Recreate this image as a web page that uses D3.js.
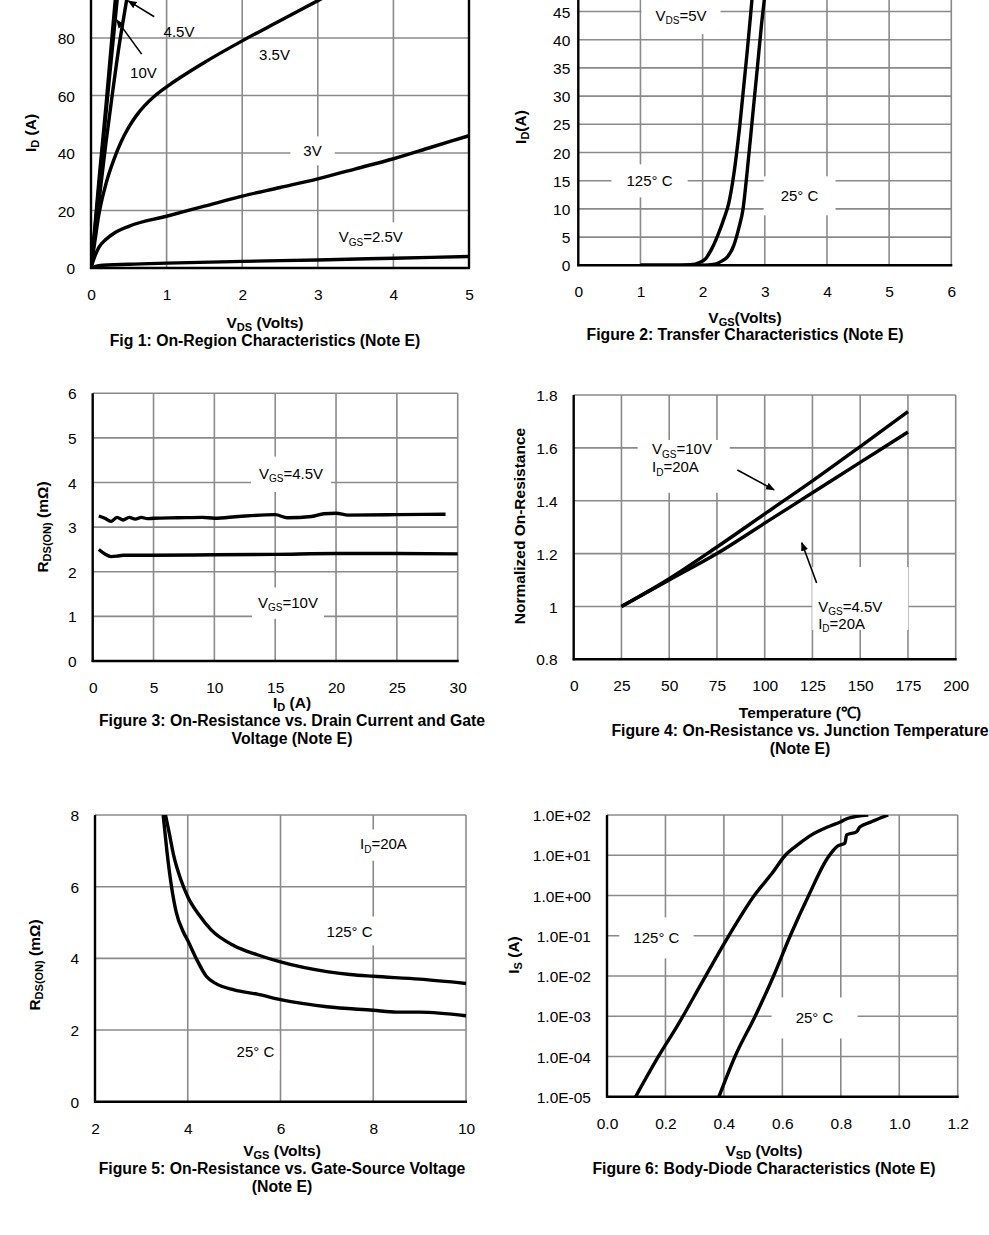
<!DOCTYPE html>
<html>
<head>
<meta charset="utf-8">
<script src="https://cdn.jsdelivr.net/npm/d3@7"></script>
<style>
body { margin: 0; background: #fff; }
svg { font-family: "Liberation Sans", Arial, sans-serif; }
</style>
</head>
<body>
<svg id="page" width="989" height="1235"></svg>
<script>
// ---- Fig 1: On-region characteristics (VDS, ID) ----
var f1_vgs10  = [[0,0],[0.05,14],[0.1,29],[0.2,57],[0.32,93],[0.36,104]];
var f1_vgs6   = [[0,0],[0.05,13],[0.1,27],[0.21,57],[0.345,93],[0.39,104]];
var f1_vgs45  = [[0,0],[0.05,11],[0.1,22],[0.2,44],[0.27,58],[0.37,77],[0.47,93],[0.52,101]];
var f1_vgs35  = [[0,0],[0.05,9],[0.1,18],[0.2,29.5],[0.3,37.5],[0.4,44],[0.5,49],[0.6,53],[0.7,56.2],[0.85,60],[1,63],[1.5,71.5],[2,79],[2.5,86],[3,93],[3.5,100],[3.7,103]];
var f1_vgs3   = [[0,0],[0.05,4],[0.1,7],[0.2,10],[0.3,12],[0.5,14.5],[1,18],[1.5,21.5],[2,25],[2.5,28],[3,31],[3.5,34.5],[4,38],[4.5,42],[5,46]];
var f1_vgs25  = [[0,0],[0.1,0.8],[0.5,1.3],[1,1.7],[2,2.3],[3,2.8],[4,3.4],[5,4]];
var f1_xticks = [0,1,2,3,4,5];
var f1_yticks = [0,20,40,60,80];
var f1_ygrid  = [0,20,40,60,80,100];

// ---- Fig 2: Transfer characteristics (VGS, ID) ----
var f2_t125 = [[1,0],[1.5,0],[1.8,0.1],[1.95,0.5],[2.05,1.2],[2.15,3],[2.25,5.5],[2.35,8.5],[2.42,11],[2.5,16],[2.6,25],[2.7,36],[2.8,48],[2.85,55]];
var f2_t25  = [[1,0],[1.5,0],[2.0,0],[2.2,0.2],[2.3,0.7],[2.4,1.5],[2.5,3.5],[2.58,6.5],[2.65,10],[2.72,17],[2.8,26],[2.88,35],[2.95,43],[3.0,48],[3.05,55]];
var f2_xticks = [0,1,2,3,4,5,6];
var f2_yticks = [0,5,10,15,20,25,30,35,40,45];
var f2_ygrid  = [0,5,10,15,20,25,30,35,40,45,50];

// ---- Fig 3: RDS(ON) vs ID ----
var f3_vgs45 = [[0.5,3.25],[1,3.2],[1.5,3.13],[2,3.22],[2.5,3.16],[3,3.22],[3.5,3.18],[4,3.22],[4.5,3.19],[5,3.2],[7,3.21],[9,3.22],[10,3.2],[12,3.24],[15,3.28],[16,3.21],[18,3.24],[19,3.3],[20,3.31],[21,3.27],[25,3.28],[29,3.29]];
var f3_vgs10 = [[0.5,2.5],[1,2.4],[1.5,2.34],[2,2.35],[2.5,2.37],[5,2.37],[10,2.38],[15,2.39],[20,2.41],[25,2.41],[30,2.4]];
var f3_xticks = [0,5,10,15,20,25,30];
var f3_yticks = [0,1,2,3,4,5,6];

// ---- Fig 4: normalized RDS(ON) vs temperature ----
var f4_vgs10 = [[25,1],[50,1.105],[75,1.225],[100,1.35],[125,1.475],[150,1.605],[175,1.737]];
var f4_vgs45 = [[25,1],[50,1.1],[75,1.2],[100,1.315],[125,1.43],[150,1.545],[175,1.66]];
var f4_xticks = [0,25,50,75,100,125,150,175,200];
var f4_yticks = [0.8,1,1.2,1.4,1.6,1.8];

// ---- Fig 5: RDS(ON) vs VGS ----
var f5_t125 = [[3.52,8],[3.6,7.5],[3.7,6.85],[3.85,6.2],[4,5.72],[4.25,5.2],[4.5,4.8],[5,4.35],[5.5,4.1],[6,3.9],[7,3.63],[7.5,3.55],[8,3.5],[9,3.42],[10,3.3]];
var f5_t25  = [[3.47,8],[3.55,7],[3.65,6],[3.75,5.3],[3.9,4.75],[4,4.5],[4.2,3.95],[4.4,3.5],[4.6,3.3],[5,3.12],[5.5,3.0],[6,2.85],[7,2.65],[8,2.55],[8.5,2.5],[9,2.5],[10,2.4]];
var f5_xticks = [2,4,6,8,10];
var f5_yticks = [0,2,4,6,8];

// ---- Fig 6: body diode (VSD, IS) ----
var f6_t125 = [[0.098,1e-5],[0.176,1e-4],[0.239,5.5e-4],[0.33,8e-3],[0.415,0.095],[0.507,1.07],[0.564,3.5],[0.61,10],[0.66,20],[0.70,32],[0.757,51],[0.80,68],[0.825,83],[0.894,100]];
var f6_t25  = [[0.383,1e-5],[0.438,1e-4],[0.507,1e-3],[0.57,1e-2],[0.627,0.1],[0.69,1],[0.757,9],[0.79,17],[0.814,20],[0.82,32],[0.854,38],[0.865,50],[0.905,68],[0.962,100]];
var f6_xticks = [0,0.2,0.4,0.6,0.8,1.0,1.2];
var f6_yticks = [1e-5,1e-4,1e-3,1e-2,1e-1,1e0,1e1,1e2];

var svg = d3.select("#page");
var GRID = "#8a8a8a";
var nclip = 0;

// text with subscripts: parts beginning with "_" are subscripts
function rich(sel, parts, size) {
    var sub = false;
    parts.forEach(function(p) {
        var t;
        if (p.charAt(0) == "_") {
            t = sel.append("tspan").attr("font-size", Math.round(size * 0.68) + "px").text(p.slice(1));
            if (!sub) t.attr("dy", size * 0.22);
            sub = true;
        } else {
            t = sel.append("tspan").text(p);
            if (sub) t.attr("dy", -size * 0.22);
            sub = false;
        }
    });
    return sel;
}

function chart(c) {
    var g = svg.append("g");
    var x = d3.scaleLinear().domain(c.xd).range([c.x0, c.x1]);
    var y = (c.log ? d3.scaleLog() : d3.scaleLinear()).domain(c.yd).range([c.y0, c.y1]);
    var ygrid = c.ygrid || c.yt;

    // grid
    g.selectAll(".gx").data(c.xt.slice(1)).enter().append("line")
        .attr("x1", function(d) { return x(d); }).attr("x2", function(d) { return x(d); })
        .attr("y1", y(c.yd[0])).attr("y2", y(c.yd[1]))
        .attr("stroke", GRID).attr("stroke-width", 1.6);
    g.selectAll(".gy").data(ygrid.slice(1)).enter().append("line")
        .attr("x1", x(c.xd[0])).attr("x2", x(c.xd[1]))
        .attr("y1", function(d) { return y(d); }).attr("y2", function(d) { return y(d); })
        .attr("stroke", GRID).attr("stroke-width", 1.6);

    // annotation texts (with white boxes)
    (c.labels || []).forEach(function(l) {
        var t = g.append("text").attr("x", x(l.at[0])).attr("y", y(l.at[1]))
            .attr("dy", "0.36em").attr("font-size", "15px")
            .attr("text-anchor", l.anchor || "middle");
        rich(t, l.parts, 15);
        if (l.box !== false) {
            var pad = l.pad || [8, 5];
            var bb = t.node().getBBox();
            if (l.rect) {
                g.insert("rect", "text").attr("fill", "#fff")
                    .attr("x", x(l.rect[0])).attr("y", y(l.rect[1]))
                    .attr("width", x(l.rect[2]) - x(l.rect[0])).attr("height", y(l.rect[3]) - y(l.rect[1]));
            } else {
                g.insert("rect", "text").attr("fill", "#fff")
                    .attr("x", bb.x - pad[0]).attr("y", bb.y - pad[1])
                    .attr("width", bb.width + 2 * pad[0]).attr("height", bb.height + 2 * pad[1]);
            }
        }
    });

    // frame: left and bottom black
    g.append("line").attr("x1", c.x0).attr("x2", c.x0).attr("y1", c.y0 + 1).attr("y2", c.y1)
        .attr("stroke", "#000").attr("stroke-width", 2.4);
    g.append("line").attr("x1", c.x0 - 1).attr("x2", c.x1 + 1).attr("y1", c.y0).attr("y2", c.y0)
        .attr("stroke", "#000").attr("stroke-width", 2.4);
    if (c.rightBlack)
        g.append("line").attr("x1", c.x1).attr("x2", c.x1).attr("y1", c.y0).attr("y2", c.y1)
            .attr("stroke", "#000").attr("stroke-width", 2.4);

    // curves
    var id = "clip" + (nclip++);
    g.append("clipPath").attr("id", id).append("rect")
        .attr("x", c.x0).attr("y", c.y1).attr("width", c.x1 - c.x0 + 2).attr("height", c.y0 - c.y1);
    var line = d3.line()
        .x(function(d) { return x(d[0]); })
        .y(function(d) { return y(d[1]); })
        .curve(d3.curveMonotoneX);
    c.series.forEach(function(s) {
        g.append("path").attr("d", line(s)).attr("fill", "none")
            .attr("stroke", "#000").attr("stroke-width", 3.4)
            .attr("stroke-linejoin", "round").attr("clip-path", "url(#" + id + ")");
    });

    // arrows
    (c.arrows || []).forEach(function(a) {
        g.append("line")
            .attr("x1", x(a[0][0])).attr("y1", y(a[0][1]))
            .attr("x2", x(a[1][0])).attr("y2", y(a[1][1]))
            .attr("stroke", "#000").attr("stroke-width", 1.6)
            .attr("marker-end", "url(#arrow)");
    });

    // tick labels
    var ax = g.append("g").attr("transform", "translate(0," + c.y0 + ")")
        .call(d3.axisBottom(x).tickValues(c.xt).tickSize(0).tickPadding(21).tickFormat(c.xf || d3.format("")));
    var ay = g.append("g").attr("transform", "translate(" + c.x0 + ",0)")
        .call(d3.axisLeft(y).tickValues(c.yt).tickSize(0).tickPadding(c.ypad || 16).tickFormat(c.yf || d3.format("")));
    [ax, ay].forEach(function(a) {
        a.select(".domain").remove();
        a.attr("font-family", null).attr("font-size", null);
        a.selectAll("text").attr("font-size", "15.5px").attr("fill", "#000");
    });
    ay.selectAll("text").attr("dy", "0.36em");

    // axis titles and caption
    var xt = g.append("text").attr("x", c.xtitle[0]).attr("y", c.xtitle[1]).attr("dy", "0.36em")
        .attr("text-anchor", "middle").attr("font-weight", "bold").attr("font-size", "15.5px");
    rich(xt, c.xtitle[2], 15.5);
    var yt = g.append("text").attr("transform", "translate(" + c.ytitle[0] + "," + c.ytitle[1] + ") rotate(-90)")
        .attr("dy", "0.36em").attr("text-anchor", "middle").attr("font-weight", "bold").attr("font-size", "15.5px");
    rich(yt, c.ytitle[2], 15.5);
    c.caption.forEach(function(cp) {
        g.append("text").attr("x", cp[0]).attr("y", cp[1]).attr("dy", "0.36em")
            .attr("text-anchor", "middle").attr("font-weight", "bold").attr("font-size", "15.8px")
            .text(cp[2]);
    });
}

svg.append("defs").append("marker").attr("id", "arrow")
    .attr("viewBox", "0 0 10 10").attr("refX", 9).attr("refY", 5)
    .attr("markerWidth", 9).attr("markerHeight", 9).attr("markerUnits", "userSpaceOnUse")
    .attr("orient", "auto")
    .append("path").attr("d", "M0,1 L10,5 L0,9 Z").attr("fill", "#000");

var DEG = "125\u00b0  C", DEG25 = "25\u00b0  C";

chart({
    x0: 91, x1: 469, y0: 268, y1: -19.5, xd: [0, 5], yd: [0, 100],
    xt: f1_xticks, yt: f1_yticks, ygrid: f1_ygrid, rightBlack: true,
    series: [f1_vgs10, f1_vgs6, f1_vgs45, f1_vgs35, f1_vgs3, f1_vgs25],
    labels: [
        {at: [1.164, 82.1], parts: ["4.5V"], box: false},
        {at: [0.694, 67.8], parts: ["10V"], box: false},
        {at: [2.427, 74.1], parts: ["3.5V"], box: false},
        {at: [2.93, 40.7], parts: ["3V"], pad: [13, 6]},
        {at: [3.70, 10.8], parts: ["V", "_GS", "=2.5V"], pad: [5, 6]}
    ],
    arrows: [[[0.837, 87.4], [0.493, 92.9]], [[0.67, 74.4], [0.34, 86.3]]],
    xtitle: [265, 322, ["V", "_DS", " (Volts)"]],
    ytitle: [30, 133, ["I", "_D", " (A)"]],
    caption: [[265, 340, "Fig 1: On-Region Characteristics (Note E)"]]
});

chart({
    x0: 578.3, x1: 951.3, y0: 265.3, y1: -16.7, xd: [0, 6], yd: [0, 50],
    xt: f2_xticks, yt: f2_yticks, ygrid: f2_ygrid, ypad: 8,
    series: [f2_t125, f2_t25],
    labels: [
        {at: [1.652, 44.3], parts: ["V", "_DS", "=5V"], pad: [14, 8]},
        {at: [1.145, 14.95], parts: [DEG], pad: [15, 8]},
        {at: [3.558, 12.3], parts: [DEG25], pad: [17, 11]}
    ],
    xtitle: [745, 317, ["V", "_GS", "(Volts)"]],
    ytitle: [520, 127, ["I", "_D", "(A)"]],
    caption: [[745, 334, "Figure 2: Transfer Characteristics (Note E)"]]
});

chart({
    x0: 92.7, x1: 457.7, y0: 661, y1: 393.3, xd: [0, 30], yd: [0, 6],
    xt: f3_xticks, yt: f3_yticks,
    series: [f3_vgs45, f3_vgs10],
    labels: [
        {at: [16.3, 4.21], parts: ["V", "_GS", "=4.5V"], pad: [8, 8]},
        {at: [16.05, 1.32], parts: ["V", "_GS", "=10V"], pad: [6, 6]}
    ],
    xtitle: [292, 702, ["I", "_D", " (A)"]],
    ytitle: [42, 527, ["R", "_DS(ON)", " (m\u03a9)"]],
    caption: [[292, 720, "Figure 3: On-Resistance vs. Drain Current and Gate"], [292, 738, "Voltage (Note E)"]]
});

chart({
    x0: 573.7, x1: 955.7, y0: 659.3, y1: 395, xd: [0, 200], yd: [0.8, 1.8],
    xt: f4_xticks, yt: f4_yticks, yf: d3.format("~g"),
    series: [f4_vgs10, f4_vgs45],
    labels: [
        {at: [41, 1.596], parts: ["V", "_GS", "=10V"], anchor: "start", rect: [33.5, 1.63, 81.7, 1.43]},
        {at: [41, 1.528], parts: ["I", "_D", "=20A"], anchor: "start", box: false},
        {at: [128, 1.0], parts: ["V", "_GS", "=4.5V"], anchor: "start", rect: [124.9, 1.149, 175.2, 0.911]},
        {at: [128, 0.935], parts: ["I", "_D", "=20A"], anchor: "start", box: false}
    ],
    arrows: [[[85.7, 1.516], [104.9, 1.441]], [[127.2, 1.089], [119.4, 1.241]]],
    xtitle: [800, 712, ["Temperature (\u2103)"]],
    ytitle: [519, 526, ["Normalized On-Resistance"]],
    caption: [[800, 730, "Figure 4: On-Resistance vs. Junction Temperature"], [800, 748, "(Note E)"]]
});

chart({
    x0: 95, x1: 466, y0: 1101.7, y1: 815, xd: [2, 10], yd: [0, 8],
    xt: f5_xticks, yt: f5_yticks,
    series: [f5_t125, f5_t25],
    labels: [
        {at: [8.22, 7.19], parts: ["I", "_D", "=20A"], pad: [4, 6]},
        {at: [7.49, 4.76], parts: [DEG], pad: [5, 6]},
        {at: [5.46, 1.39], parts: [DEG25], pad: [5, 10]}
    ],
    xtitle: [282, 1150, ["V", "_GS", " (Volts)"]],
    ytitle: [34, 965, ["R", "_DS(ON)", " (m\u03a9)"]],
    caption: [[282, 1168, "Figure 5: On-Resistance vs. Gate-Source Voltage"], [282, 1186, "(Note E)"]]
});

chart({
    x0: 607, x1: 957.7, y0: 1096.7, y1: 815, xd: [0, 1.2], yd: [1e-5, 1e2], log: true,
    xt: f6_xticks, yt: f6_yticks,
    xf: d3.format(".1f"),
    yf: function(v) {
        var e = Math.round(Math.log10(v));
        return "1.0E" + (e < 0 ? "-" : "+") + (Math.abs(e) < 10 ? "0" : "") + Math.abs(e);
    },
    series: [f6_t125, f6_t25],
    labels: [
        {at: [0.169, 0.088], parts: [DEG], pad: [14, 12]},
        {at: [0.71, 9.0e-4], parts: [DEG25], pad: [24, 12]}
    ],
    xtitle: [764, 1150, ["V", "_SD", " (Volts)"]],
    ytitle: [513, 955, ["I", "_S", " (A)"]],
    caption: [[764, 1168, "Figure 6: Body-Diode Characteristics (Note E)"]]
});
</script>
</body>
</html>
